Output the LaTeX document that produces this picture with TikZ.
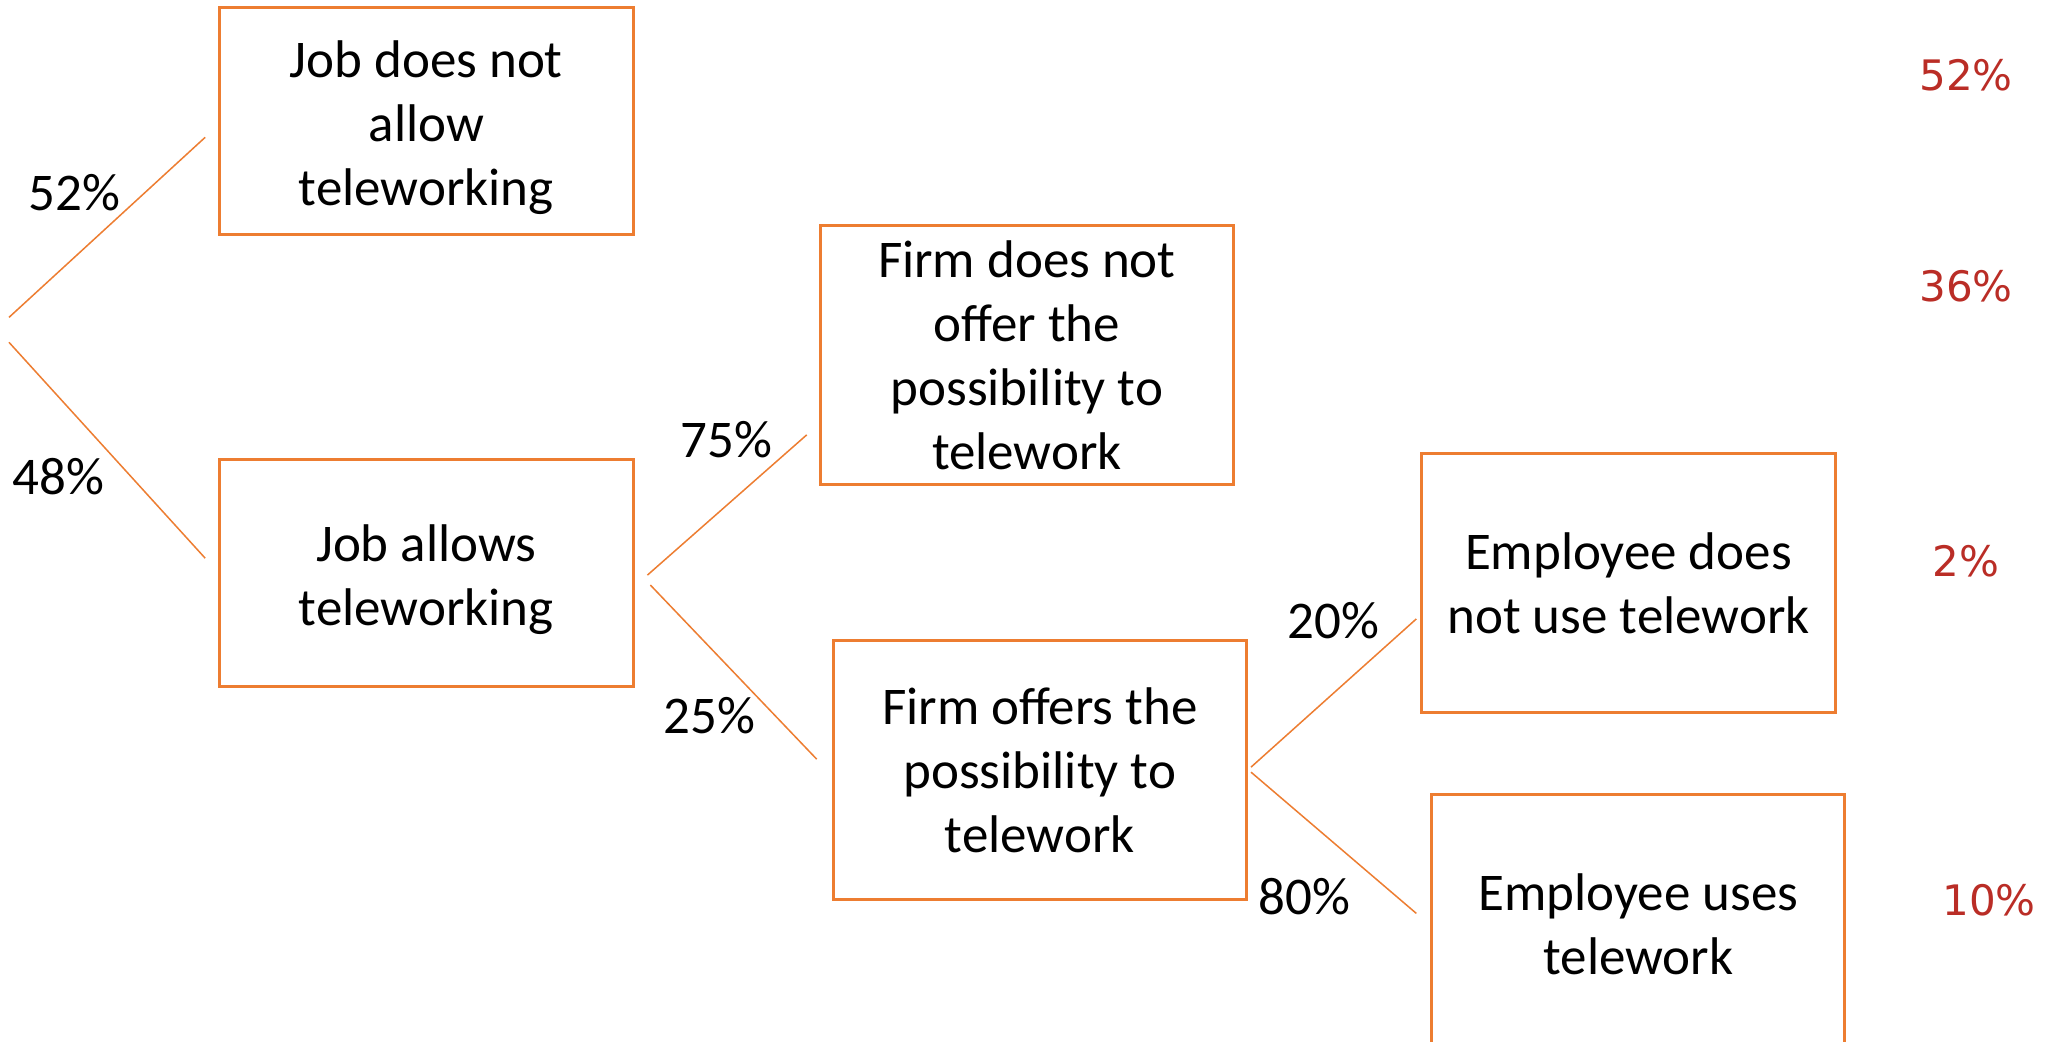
\documentclass[tikz,border=0pt]{standalone}
\usepackage{fontspec}
\setmainfont{Carlito}
\newfontfamily\redfont{DejaVu Sans}
\definecolor{boxorange}{RGB}{237,125,49}
\definecolor{pctred}{RGB}{186,45,38}
\newcommand\mytopstrut{\rule{0pt}{50pt}}
\begin{document}
\begin{tikzpicture}[x=0.996pt,y=-0.995pt,
  box/.style={draw=boxorange,line width=3pt,inner sep=0pt,align=center,
    font=\fontsize{53}{64}\selectfont},
  smallbox/.style={box,minimum width=414pt,minimum height=227pt},
  bigbox/.style={box,minimum width=413pt,minimum height=259pt},
  branch/.style={draw=boxorange,line width=1.5pt},
  pct/.style={font=\fontsize{53}{64}\selectfont,inner sep=0pt},
  total/.style={font=\redfont\fontsize{42}{50}\selectfont,text=pctred,inner sep=0pt}]
\fill[white] (0,0) rectangle (2054.2,1047.2);
\useasboundingbox (0,0) rectangle (2054.2,1047.2);
\clip (0,0) rectangle (2054.2,1047.2);
% boxes
\node[smallbox] (b1) at (428,122) {\mytopstrut Job does not\\allow\\teleworking};
\node[smallbox] (b2) at (428,576) {\mytopstrut Job allows\\teleworking};
\node[bigbox] (b3) at (1031,357) {Firm does not\\offer the\\possibility to\\telework};
\node[bigbox] (b4) at (1044,774) {Firm offers the\\possibility to\\telework};
\node[bigbox] (b5) at (1635,586) {Employee does\\not use telework};
\node[bigbox] (b6) at (1645,929) {Employee uses\\telework};
% connector end points
\coordinate (r1) at (9,319);
\coordinate (r2) at (9,344);
\coordinate (e1) at (206,138);
\coordinate (e2) at (206,561);
\coordinate (s3) at (650,578);
\coordinate (s4) at (653,588);
\coordinate (e3) at (810,437);
\coordinate (e4) at (820,763);
\coordinate (s5) at (1256,771);
\coordinate (s6) at (1256,776);
\coordinate (e5) at (1422,622);
\coordinate (e6) at (1422,918);
% connectors
\draw[branch] (r1) -- (e1);
\draw[branch] (r2) -- (e2);
\draw[branch] (s3) -- (e3);
\draw[branch] (s4) -- (e4);
\draw[branch] (s5) -- (e5);
\draw[branch] (s6) -- (e6);
% branch labels
\node[pct] (p1) at (75,194) {52\%};
\node[pct] (p2) at (59,479) {48\%};
\node[pct] (p3) at (729,442) {75\%};
\node[pct] (p4) at (712,719) {25\%};
\node[pct] (p5) at (1339,624) {20\%};
\node[pct] (p6) at (1310,901) {80\%};
% totals
\node[total] (t1) at (1974,76) {52\%};
\node[total] (t2) at (1974,288) {36\%};
\node[total] (t3) at (1974,564) {2\%};
\node[total] (t4) at (1997,905) {10\%};
\end{tikzpicture}
\end{document}
